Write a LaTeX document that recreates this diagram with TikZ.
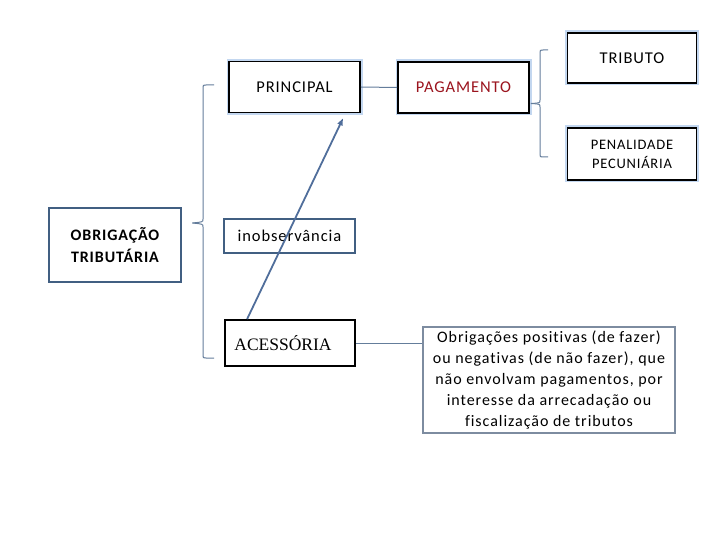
\documentclass[tikz,border=0pt]{standalone}
\usepackage{fontspec}
\setmainfont{Carlito}[LetterSpace=5.5,Ligatures=NoCommon]
\newfontfamily\notefont{Carlito}[LetterSpace=6,Ligatures=NoCommon]
\newfontfamily\timesf{Liberation Serif}
\usetikzlibrary{arrows.meta,calc}
\definecolor{glow}{RGB}{195,215,240}
\definecolor{steel}{RGB}{65,95,130}
\definecolor{conn}{RGB}{100,125,155}
\definecolor{arrowc}{RGB}{80,110,155}
\definecolor{darkred}{RGB}{155,20,30}
\definecolor{grayb}{RGB}{125,140,160}
\begin{document}
\begin{tikzpicture}[x=1pt,y=-1pt,
  glowbox/.style={draw=black,line width=1.8pt,fill=white,inner sep=2pt,align=center,
    preaction={draw=glow,line width=5pt},font=\fontsize{16.5}{19}\selectfont},
  steelbox/.style={draw=steel,line width=2.6pt,fill=white,inner sep=2pt,align=center,
    font=\fontsize{16.5}{22}\selectfont},
  plainbox/.style={draw=black,line width=1.8pt,fill=white,inner sep=2pt,align=center},
  notebox/.style={draw=grayb,line width=1.3pt,fill=white,inner sep=2pt,align=center,
    font=\notefont\fontsize{16}{21}\selectfont},
  conline/.style={draw=conn,line width=1pt},
  arrline/.style={draw=arrowc,line width=1.8pt,-{Triangle[length=7pt,width=5pt]}}
]
\useasboundingbox (0,0) rectangle (720,540);

\node[glowbox,minimum width=131pt,minimum height=51pt] (prin) at (294.5,87) {PRINCIPAL};
\node[glowbox,minimum width=131pt,minimum height=51pt,text=darkred] (pag) at (463.5,87.5) {PAGAMENTO};
\node[glowbox,minimum width=129pt,minimum height=50pt] (trib) at (632,58) {TRIBUTO};
\node[glowbox,minimum width=129pt,minimum height=52pt,font=\fontsize{14.5}{19}\selectfont] (pen) at (632,154) {PENALIDADE\\PECUNIÁRIA};
\node[steelbox,minimum width=132pt,minimum height=74pt,font=\bfseries\fontsize{16}{22}\selectfont] (obr) at (115,245) {OBRIGAÇÃO\\TRIBUTÁRIA};
\node[steelbox,minimum width=131pt,minimum height=34pt] (inob) at (289.5,236) {inobservância};
\node[plainbox,minimum width=130pt,minimum height=46pt,font=\timesf\fontsize{17.5}{20}\selectfont] (acc) at (290,343) {ACESSÓRIA\hspace{14pt}};
\node[notebox,minimum width=252pt,minimum height=106pt] (note) at (549,380)
  {Obrigações positivas (de fazer)\\ou negativas (de não fazer), que\\não envolvam pagamentos, por\\interesse da arrecadação ou\\fiscalização de tributos};

% straight connectors
\draw[conline] (prin.east) -- (pag.east -| pag.west);
\draw[conline] (acc.east) -- (acc.east -| note.west);

% left brace: OBRIGAÇÃO -> PRINCIPAL / ACESSÓRIA
\coordinate (lbtop) at (214,85);
\coordinate (lbbot) at (214,358);
\coordinate (lbtip) at ($(obr.east)+(10,-22)$);
\draw[conline] (lbtop) -- (206,85) .. controls (203,85) .. (203,88) -- (203,219)
  .. controls (203,222) .. (lbtip);
\draw[conline] (lbtip) .. controls (203,224) .. (203,227) -- (203,355)
  .. controls (203,358) .. (206,358) -- (lbbot);

% right brace: PAGAMENTO -> TRIBUTO / PENALIDADE
\coordinate (rbtop) at (548,50);
\coordinate (rbbot) at (548,157);
\coordinate (rbtip) at ($(pag.east)+(1,16)$);
\draw[conline] (rbtop) -- (543,50) .. controls (540,50) .. (540,53) -- (540,100)
  .. controls (540,103) .. (rbtip);
\draw[conline] (rbtip) .. controls (540,104) .. (540,107) -- (540,154)
  .. controls (540,157) .. (543,157) -- (rbbot);

% arrow ACESSÓRIA -> PRINCIPAL
\coordinate (arrs) at ($(acc.north west)+(23,0)$);
\coordinate (arre) at ($(prin.south)+(48.5,5)$);
\draw[arrline] (arrs) -- (arre);
\end{tikzpicture}
\end{document}
